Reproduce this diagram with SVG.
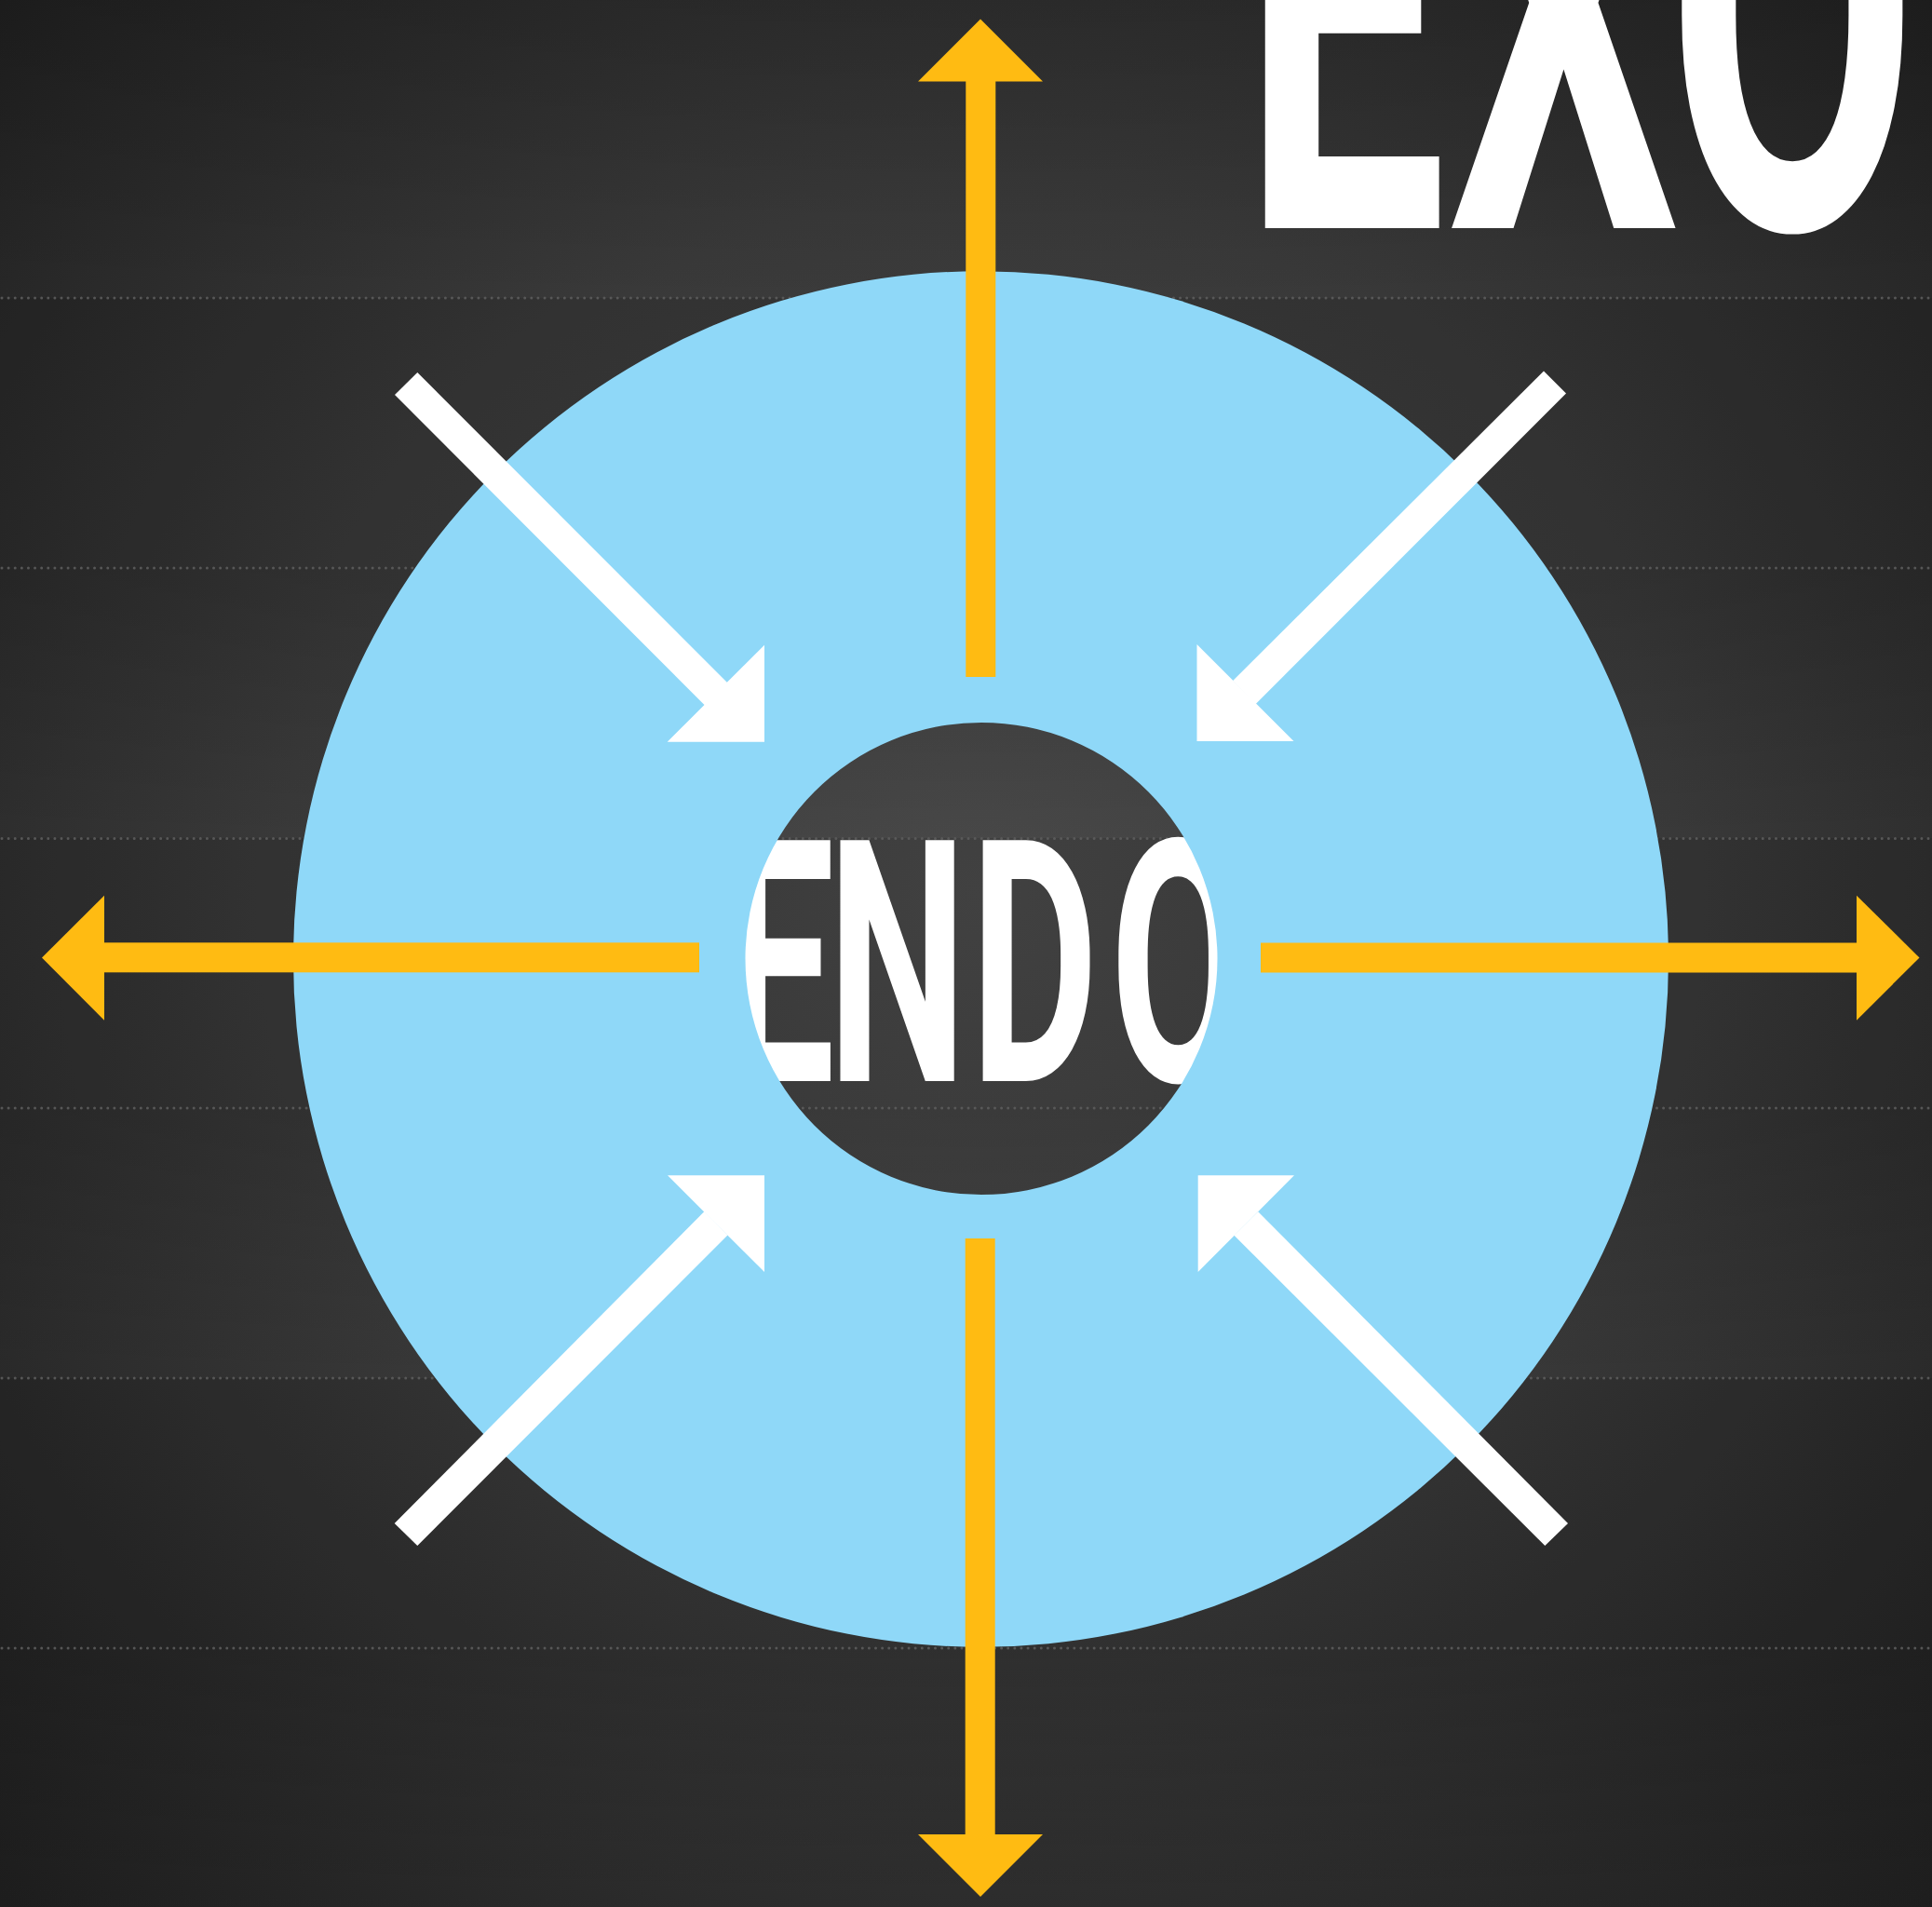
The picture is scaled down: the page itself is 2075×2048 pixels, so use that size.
<svg xmlns="http://www.w3.org/2000/svg" width="2075" height="2048" viewBox="0 0 2075 2048">
<style>
.y{fill:#ffbb12}.w{fill:#fff}.t{fill:#fff;font-family:Roboto,"Liberation Sans",Arial,sans-serif;font-weight:700}
.dot{stroke:#5c5c5c;stroke-width:3;stroke-linecap:round;stroke-dasharray:0.01 7.1;fill:none;opacity:.9}
</style>
<defs>
<radialGradient id="bg" gradientUnits="userSpaceOnUse" cx="1053" cy="960" r="1500">
<stop offset="0" stop-color="#4a4a4a"/><stop offset=".5" stop-color="#3a3a3a"/><stop offset="1" stop-color="#1e1e1e"/>
</radialGradient>
<linearGradient id="band" x1="0" y1="0" x2="0" y2="1"><stop offset="0" stop-color="#000" stop-opacity=".16"/><stop offset=".5" stop-color="#000" stop-opacity=".09"/><stop offset="1" stop-color="#000" stop-opacity=".02"/></linearGradient>
</defs>
<g id="background">
<rect width="2075" height="2048" fill="url(#bg)"/>
<rect y="0" width="2075" height="320" fill="url(#band)"/>
<rect y="320" width="2075" height="290" fill="#000" opacity=".12"/>
<rect y="610" width="2075" height="290" fill="url(#band)"/>
<rect y="900" width="2075" height="290" fill="#000" opacity=".12"/>
<rect y="1190" width="2075" height="290" fill="url(#band)"/>
<rect y="1480" width="2075" height="290" fill="#000" opacity=".12"/>
<rect y="1770" width="2075" height="278" fill="url(#band)"/>
<path class="dot" d="M2 320H2075M2 610H2075M2 900.5H2075M2 1190H2075M2 1480H2075M2 1770H2075"/>
</g>
<g id="label-exo"><text class="t" font-size="675" y="245" transform="scale(.58 1)" x="2300 2681 3086">EXO</text></g>
<g id="node-endo"><text class="t" font-size="364" y="1161" transform="scale(.58 1)" x="1341 1533 1797 2056">ENDO</text></g>
<g id="node-ring"><path fill="#8fd8f8" fill-rule="evenodd" d="M315 1030a738.500 738.500 0 1 0 1477 0a738.500 738.500 0 1 0 -1477 0ZM800.500 1029.500a253.500 253.500 0 1 0 507 0a253.500 253.500 0 1 0 -507 0Z"/></g>
<g id="connectors">
<g id="up"><rect class="y" x="1037.300" y="87" width="32" height="640"/><polygon class="y" points="1053,20.500 1120,87.500 986,87.500"/></g>
<g id="down"><rect class="y" x="1036.700" y="1330" width="32" height="640"/><polygon class="y" points="1053,2037 1120,1970 986,1970"/></g>
<g id="left"><rect class="y" x="112" y="1012.300" width="639" height="32"/><polygon class="y" points="45,1028.500 112,961.700 112,1095.700"/></g>
<g id="right"><rect class="y" x="1354" y="1012.500" width="640" height="32"/><polygon class="y" points="2061.500,1028.500 1994,961.700 1994,1095.700"/></g>
<g id="in-tl"><polygon class="w" points="448.300,400 424,424 757.500,758 781.500,733.500"/><polygon class="w" points="821,692.700 821,796.700 716.700,796.700"/></g>
<g id="in-tr"><polygon class="w" points="1658,398.500 1682,422.500 1348.200,756.500 1324.200,731"/><polygon class="w" points="1285.500,692 1285.500,796 1389.500,796"/></g>
<g id="in-bl"><polygon class="w" points="423.700,1636 448.300,1660 781.500,1326.500 756.500,1301"/><polygon class="w" points="821,1366 821,1262.300 717,1262.300"/></g>
<g id="in-br"><polygon class="w" points="1684,1636 1659.300,1660 1325.500,1326.800 1351.200,1301.200"/><polygon class="w" points="1286.700,1262.300 1390,1262.300 1286.700,1366"/></g>
</g>
</svg>
